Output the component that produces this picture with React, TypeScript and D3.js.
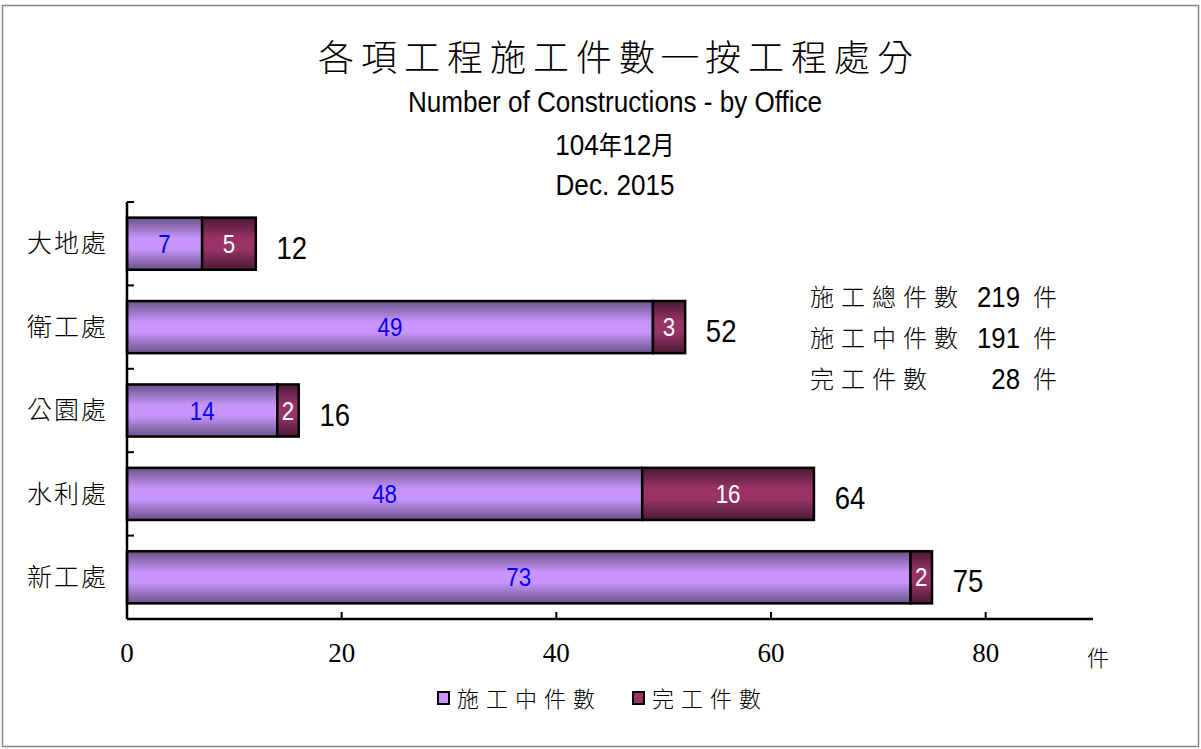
import React from 'react';
import * as d3 from 'd3';

// data
const offices = ['大地處', '衛工處', '公園處', '水利處', '新工處'];
const inProgress = [7, 49, 14, 48, 73];
const completed = [5, 3, 2, 16, 2];
const xTicks = [0, 20, 40, 60, 80];
const seriesNames = ['施工中件數', '完工件數'];
const summaryLines = [
  { label: '施工總件數', value: '219' },
  { label: '施工中件數', value: '191' },
  { label: '完工件數', value: '28' },
];

const W = 1201, H = 749;
const margin = { top: 202, right: 108, bottom: 130, left: 127 };

const CJK = '"Noto Sans CJK TC", "Noto Sans CJK SC", sans-serif';
const SANS = '"Liberation Sans", Arial, sans-serif';
const SERIF = '"Liberation Serif", "DejaVu Serif", serif';

// condensed sans text (no narrow font installed, so squeeze horizontally)
const Narrow = ({ x, y, size, fill = '#000', anchor = 'middle', sx = 0.86, children }: any) => (
  <text
    transform={`translate(${x},${y}) scale(${sx},1)`}
    textAnchor={anchor}
    fontFamily={SANS}
    fontSize={size}
    fill={fill}
  >
    {children}
  </text>
);

const App = () => {
  const x = d3.scaleLinear()
    .domain([0, 90])
    .range([margin.left, W - margin.right]);

  const y = d3.scaleBand()
    .domain(offices)
    .range([margin.top, H - margin.bottom])
    .paddingInner(0.375)
    .paddingOuter(0.1875);

  const bottomY = H - margin.bottom;
  const step = y.step();
  const boundaries = d3.range(offices.length + 1).map(i => margin.top + i * step);

  return (
    <svg width={W} height={H} style={{ position: 'absolute', left: 0, top: 0, display: 'block' }}>
      <defs>
        <linearGradient id="gPurple" x1="0" y1="0" x2="0" y2="1">
          <stop offset="0" stopColor="#6a5388" />
          <stop offset="0.4" stopColor="#c795fb" />
          <stop offset="0.6" stopColor="#c795fb" />
          <stop offset="1" stopColor="#6a5388" />
        </linearGradient>
        <linearGradient id="gMaroon" x1="0" y1="0" x2="0" y2="1">
          <stop offset="0" stopColor="#4a1a34" />
          <stop offset="0.4" stopColor="#993366" />
          <stop offset="0.6" stopColor="#993366" />
          <stop offset="1" stopColor="#4a1a34" />
        </linearGradient>
      </defs>

      <rect x={0} y={0} width={W} height={H} fill="#fff" />
      <rect x={2.5} y={5.5} width={1196} height={741} fill="none" stroke="#888" strokeWidth={1.5} />

      {/* titles */}
      <text x={619} y={71} textAnchor="middle" fontFamily={CJK} fontWeight={300} fontSize={36} letterSpacing={7} fill="#000">各項工程施工件數─按工程處分</text>
      <Narrow x={615} y={112} size={29} sx={0.9}>Number of Constructions - by Office</Narrow>
      <Narrow x={615} y={155} size={29} sx={0.9}>
        104<tspan fontFamily={CJK} fontSize={26}>年</tspan>12<tspan fontFamily={CJK} fontSize={26}>月</tspan>
      </Narrow>
      <Narrow x={615} y={195} size={29} sx={0.9}>Dec. 2015</Narrow>

      {/* bars */}
      {offices.map((o, i) => {
        const y0 = y(o)!;
        const bh = y.bandwidth();
        const a = inProgress[i];
        const b = completed[i];
        const cy = y0 + bh / 2;
        return (
          <g key={o}>
            <rect x={x(0)} y={y0} width={x(a) - x(0)} height={bh} fill="url(#gPurple)" stroke="#000" strokeWidth={2.5} />
            <rect x={x(a)} y={y0} width={x(a + b) - x(a)} height={bh} fill="url(#gMaroon)" stroke="#000" strokeWidth={2.5} />
            <Narrow x={(x(0) + x(a)) / 2} y={cy + 9} size={26} fill="#0000ff">{a}</Narrow>
            <Narrow x={(x(a) + x(a + b)) / 2} y={cy + 9} size={26} fill="#fff">{b}</Narrow>
            <Narrow x={x(a + b) + 36} y={cy + 15} size={32}>{a + b}</Narrow>
            <text x={108} y={cy} dy="0.35em" textAnchor="end" fontFamily={CJK} fontWeight={300} fontSize={25} letterSpacing={2} fill="#000">{o}</text>
          </g>
        );
      })}

      {/* y axis */}
      <line x1={x(0)} x2={x(0)} y1={boundaries[0]} y2={bottomY} stroke="#000" strokeWidth={2.5} />
      {boundaries.map((b, i) => (
        <line key={i} x1={x(0)} x2={x(0) + 7} y1={b} y2={b} stroke="#000" strokeWidth={2} />
      ))}

      {/* x axis */}
      <line x1={x(0)} x2={x(90)} y1={bottomY} y2={bottomY} stroke="#000" strokeWidth={2.5} />
      {xTicks.map(t => (
        <g key={t}>
          <line x1={x(t)} x2={x(t)} y1={bottomY} y2={bottomY - 7} stroke="#000" strokeWidth={2} />
          <text x={x(t)} y={662} textAnchor="middle" fontFamily={SERIF} fontSize={27} fill="#000">{t}</text>
        </g>
      ))}
      <text x={1098} y={666} textAnchor="middle" fontFamily={CJK} fontWeight={300} fontSize={22} fill="#000">件</text>

      {/* summary box */}
      {summaryLines.map((s, i) => (
        <g key={s.label}>
          <text x={810} y={306 + i * 41} fontFamily={CJK} fontWeight={300} fontSize={24} letterSpacing={7} fill="#000">{s.label}</text>
          <Narrow x={1020} y={307 + i * 41} size={30} anchor="end">{s.value}</Narrow>
          <text x={1033} y={306 + i * 41} fontFamily={CJK} fontWeight={300} fontSize={24} fill="#000">件</text>
        </g>
      ))}

      {/* legend */}
      {seriesNames.map((s, i) => {
        const lx = [438, 633][i];
        return (
          <g key={s}>
            <rect x={lx} y={692} width={11} height={12} fill={i === 0 ? '#c795fb' : '#993366'} stroke="#000" strokeWidth={2} />
            <text x={lx + 19} y={707} fontFamily={CJK} fontWeight={300} fontSize={22} letterSpacing={7} fill="#000">{s}</text>
          </g>
        );
      })}
    </svg>
  );
};

export default App;
